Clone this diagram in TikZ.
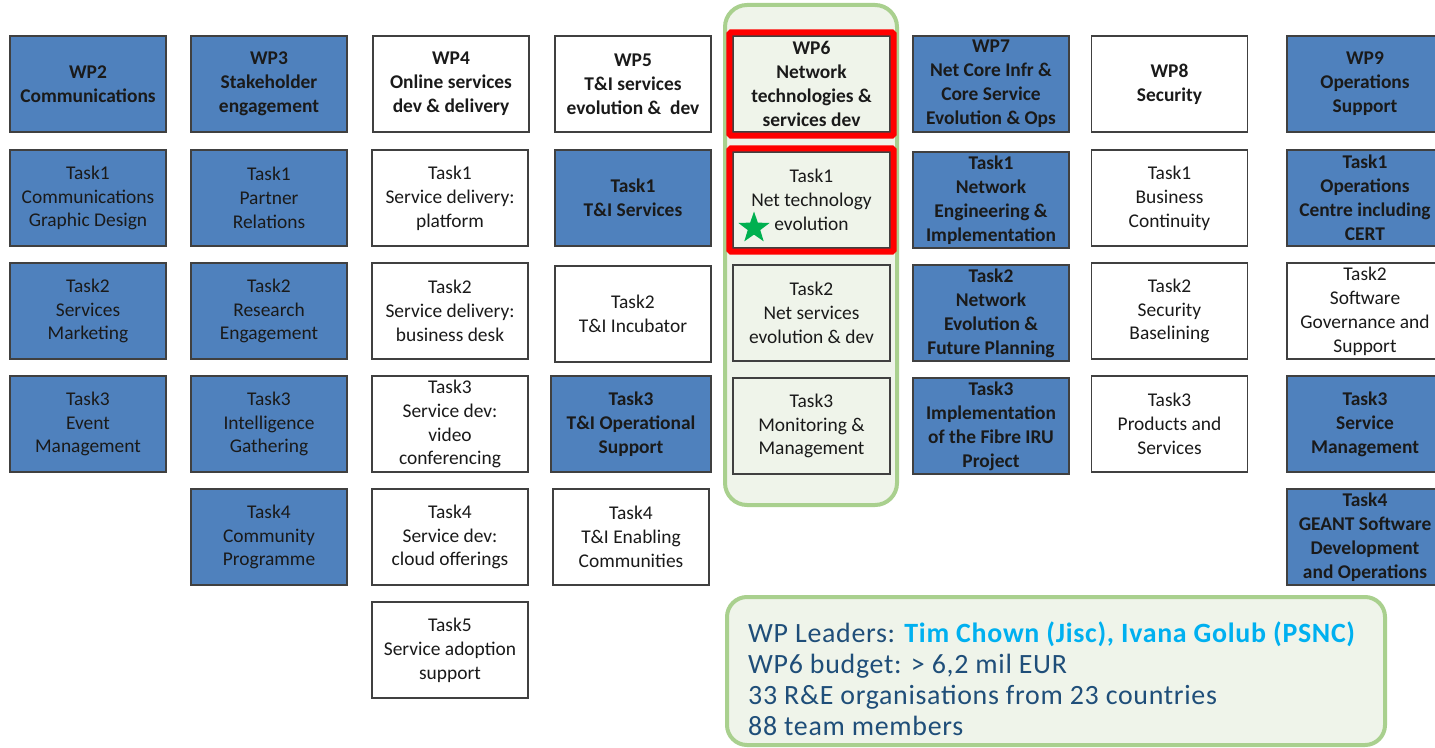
\documentclass[tikz,border=0pt]{standalone}
\usepackage{fontspec}
\setmainfont{Carlito}
\newfontfamily\infofont[LetterSpace=2.5]{Carlito}
\usetikzlibrary{shapes.geometric,fit}
\definecolor{wpblue}{HTML}{4F81BD}
\definecolor{lgreen}{HTML}{EFF4EA}
\definecolor{bgreen}{HTML}{A9D08E}
\definecolor{infotext}{HTML}{1F4E79}
\definecolor{namecol}{HTML}{00B0F0}
\definecolor{startgreen}{HTML}{00B050}
\definecolor{txt}{HTML}{1A1A1A}
\tikzset{
  box/.style={draw=black!75, line width=1.2bp, minimum width=156bp, minimum height=96bp,
    align=center, inner sep=0pt, text=txt, font=\fontsize{19.5}{24}\selectfont},
  bluebox/.style={box, fill=wpblue},
  whitebox/.style={box, fill=white},
  greenbox/.style={box, fill=lgreen, minimum width=157bp},
  hdr/.style={font=\fontsize{19.5}{24}\selectfont\bfseries},
  redframe/.style={draw=red, line width=6bp, inner sep=3bp, rounded corners=1.5bp},
  container/.style={draw=bgreen, line width=4bp, fill=lgreen, rounded corners=22bp},
  infoline/.style={anchor=base west, inner sep=0, text=infotext, font=\infofont\fontsize{28}{31}\selectfont}
}
\begin{document}
\begin{tikzpicture}[x=1bp,y=-1bp]
\useasboundingbox[fill=white] (0,0) rectangle (1435,747);
% containers
\node[container, minimum width=172bp, minimum height=500bp, inner sep=0] (wp6cont) at (811,255) {};
\node[container, rounded corners=20bp, minimum width=658bp, minimum height=148bp, inner sep=0] (infobox) at (1056,671) {};
% column WP2
\node[bluebox, hdr] (wp2) at (88,84) {WP2\\Communications};
\node[bluebox] (wp2t1) at (88,198) {Task1\\Communications\\Graphic Design};
\node[bluebox] (wp2t2) at (88,311) {Task2\\Services\\Marketing};
\node[bluebox] (wp2t3) at (88,424) {Task3\\Event\\Management};
% column WP3
\node[bluebox, hdr] (wp3) at (269,84) {WP3\\Stakeholder\\engagement};
\node[bluebox] (wp3t1) at (269,198) {Task1\\Partner\\Relations};
\node[bluebox] (wp3t2) at (269,311) {Task2\\Research\\Engagement};
\node[bluebox] (wp3t3) at (269,424) {Task3\\Intelligence\\Gathering};
\node[bluebox] (wp3t4) at (269,537) {Task4\\Community\\Programme};
% column WP4
\node[whitebox, hdr] (wp4) at (451,84) {WP4\\Online services\\dev \& delivery};
\node[whitebox] (wp4t1) at (450,198) {Task1\\Service delivery:\\platform};
\node[whitebox] (wp4t2) at (450,311) {Task2\\Service delivery:\\business desk};
\node[whitebox] (wp4t3) at (450,424) {Task3\\Service dev:\\video\\conferencing};
\node[whitebox] (wp4t4) at (450,537) {Task4\\Service dev:\\cloud offerings};
\node[whitebox] (wp4t5) at (450,650) {Task5\\Service adoption\\support};
% column WP5
\node[whitebox, hdr] (wp5) at (633,84) {WP5\\T\&I services\\evolution \&\ \ dev};
\node[bluebox, hdr] (wp5t1) at (633,198) {Task1\\T\&I Services};
\node[whitebox] (wp5t2) at (633,314) {Task2\\T\&I Incubator};
\node[bluebox, hdr, minimum width=160bp] (wp5t3) at (631,424) {Task3\\T\&I Operational\\Support};
\node[whitebox] (wp5t4) at (631,537) {Task4\\T\&I Enabling\\Communities};
% column WP6
\node[greenbox, hdr] (wp6) at (811.5,84) {WP6\\Network\\technologies \&\\services dev};
\node[greenbox] (wp6t1) at (811.5,200) {Task1\\Net technology\\evolution};
\node[greenbox] (wp6t2) at (811.5,313) {Task2\\Net services\\evolution \& dev};
\node[greenbox] (wp6t3) at (811.5,426) {Task3\\Monitoring \&\\Management};
\node[redframe, fit=(wp6)] (wp6red) {};
\node[redframe, fit=(wp6t1)] (wp6t1red) {};
\node[star, star points=5, star point ratio=2.5, fill=startgreen, minimum size=33bp, inner sep=0] (star) at (754,228) {};
% column WP7
\node[bluebox, hdr] (wp7) at (991,84) {WP7\\Net Core Infr \&\\Core Service\\Evolution \& Ops};
\node[bluebox, hdr] (wp7t1) at (991,200) {Task1\\Network\\Engineering \&\\Implementation};
\node[bluebox, hdr] (wp7t2) at (991,313) {Task2\\Network\\Evolution \&\\Future Planning};
\node[bluebox, hdr] (wp7t3) at (991,426) {Task3\\Implementation\\of the Fibre IRU\\Project};
% column WP8
\node[whitebox, hdr] (wp8) at (1169.5,84) {WP8\\Security};
\node[whitebox] (wp8t1) at (1169.5,198) {Task1\\Business\\Continuity};
\node[whitebox] (wp8t2) at (1169.5,311) {Task2\\Security\\Baselining};
\node[whitebox] (wp8t3) at (1169.5,424) {Task3\\Products and\\Services};
% column WP9
\node[bluebox, hdr] (wp9) at (1365,84) {WP9\\Operations\\Support};
\node[bluebox, hdr] (wp9t1) at (1365,198) {Task1\\Operations\\Centre including\\CERT};
\node[whitebox] (wp9t2) at (1365,311) {Task2\\Software\\Governance and\\Support};
\node[bluebox, hdr] (wp9t3) at (1365,424) {Task3\\Service\\Management};
\node[bluebox, hdr] (wp9t4) at (1365,537) {Task4\\GEANT Software\\Development\\and Operations};
% info text
\node[infoline] (info1) at (748,642) {WP Leaders: {\color{namecol}\bfseries Tim Chown (Jisc), Ivana Golub (PSNC)}};
\node[infoline] (info2) at (748,673) {WP6 budget: > 6,2 mil EUR};
\node[infoline] (info3) at (748,704) {33 R\&E organisations from 23 countries};
\node[infoline] (info4) at (748,735) {88 team members};
\end{tikzpicture}
\end{document}
